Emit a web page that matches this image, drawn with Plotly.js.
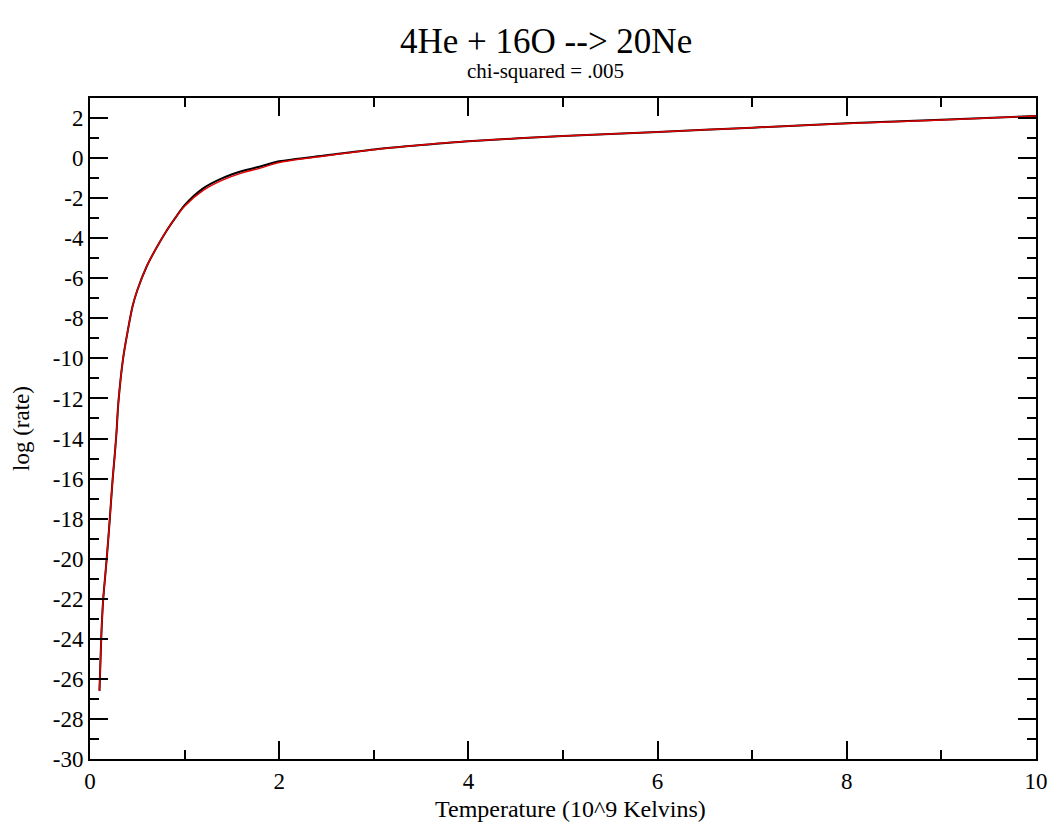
<!DOCTYPE html>
<html>
<head>
<meta charset="utf-8">
<script src="https://cdn.plot.ly/plotly-3.0.1.min.js"></script>
<style>html,body{margin:0;padding:0;background:#fff;}#chart{width:1058px;height:829px;}</style>
</head>
<body>
<div id="chart"></div>
<script>
// Temperature (10^9 K)
var temperature = [0.1,0.12,0.14,0.16,0.18,0.2,0.22,0.24,0.26,0.28,0.3,0.35,0.4,0.45,0.5,0.6,0.7,0.8,0.9,1.0,1.2,1.4,1.6,1.8,2.0,2.5,3,3.5,4,5,6,7,8,9,10];
// tabulated rate (black)
var rateData = [-26.6,-23.8,-22.0,-20.9,-19.8,-18.6,-17.3,-16.0,-14.9,-13.7,-12.2,-10.0,-8.6,-7.4,-6.6,-5.4,-4.5,-3.7,-3.0,-2.35,-1.5,-1.0,-0.66,-0.42,-0.16,0.14,0.43,0.65,0.84,1.1,1.3,1.52,1.74,1.92,2.1];
// fitted rate (red)
var rateFit = [-26.6,-23.8,-22.0,-20.9,-19.8,-18.6,-17.3,-16.0,-14.9,-13.7,-12.2,-10.0,-8.6,-7.4,-6.6,-5.4,-4.5,-3.7,-3.0,-2.4,-1.6,-1.1,-0.75,-0.5,-0.22,0.12,0.42,0.65,0.84,1.1,1.3,1.52,1.73,1.9,2.1];

// axis tick labels
var xTickVals = [0, 2, 4, 6, 8, 10];
var xTickText = ["0", "2", "4", "6", "8", "10"];
var yTickVals = [-30,-28,-26,-24,-22,-20,-18,-16,-14,-12,-10,-8,-6,-4,-2,0,2];
var yTickText = ["-30","-28","-26","-24","-22","-20","-18","-16","-14","-12","-10","-8","-6","-4","-2","0","2"];

var titleText = "4He + 16O --> 20Ne";
var subtitleText = "chi-squared = .005";
var xTitle = "Temperature (10^9 Kelvins)";
var yTitle = "log (rate)";

var serif = "Liberation Serif";

var traces = [
  {x: temperature, y: rateData, type: 'scatter', mode: 'lines',
   line: {color: '#000000', width: 2, shape: 'spline', smoothing: 0.8}, showlegend: false, hoverinfo: 'skip'},
  {x: temperature, y: rateFit, type: 'scatter', mode: 'lines',
   line: {color: '#e00000', width: 1.5, shape: 'spline', smoothing: 0.8}, showlegend: false, hoverinfo: 'skip'}
];

var axisCommon = {
  showline: true, linecolor: '#000', linewidth: 2, mirror: 'allticks',
  ticks: 'inside', ticklen: 18, tickwidth: 2, tickcolor: '#000',
  showgrid: false, zeroline: false, tickmode: 'array',
  tickfont: {family: serif, size: 23, color: '#000'},
  minor: {ticks: 'inside', ticklen: 9, tickwidth: 2, tickcolor: '#000', dtick: 1, tick0: 0, showgrid: false}
};

var layout = {
  width: 1058, height: 829,
  margin: {l: 90, r: 22, t: 98, b: 70},
  paper_bgcolor: '#fff', plot_bgcolor: '#fff',
  showlegend: false,
  font: {family: serif, color: '#000'},
  xaxis: Object.assign({}, axisCommon, {
    range: [0, 10], tickvals: xTickVals, ticktext: xTickText
  }),
  yaxis: Object.assign({}, axisCommon, {
    range: [-30, 3], tickvals: yTickVals, ticktext: yTickText,
    title: {text: yTitle, font: {family: serif, size: 23, color: '#000'}, standoff: 17}
  }),
  annotations: [
    {text: titleText, xref: 'paper', yref: 'paper', x: 0.482, y: 1.086, xanchor: 'center', yanchor: 'middle',
     showarrow: false, font: {family: serif, size: 35, color: '#000'}},
    {text: subtitleText, xref: 'paper', yref: 'paper', x: 0.482, y: 1.041, xanchor: 'center', yanchor: 'middle',
     showarrow: false, font: {family: serif, size: 21, color: '#000'}},
    {text: xTitle, xref: 'paper', yref: 'paper', x: 0.508, y: -0.076, xanchor: 'center', yanchor: 'middle',
     showarrow: false, font: {family: serif, size: 24, color: '#000'}}
  ]
};

Plotly.newPlot('chart', traces, layout, {staticPlot: true, displayModeBar: false});
</script>
</body>
</html>
